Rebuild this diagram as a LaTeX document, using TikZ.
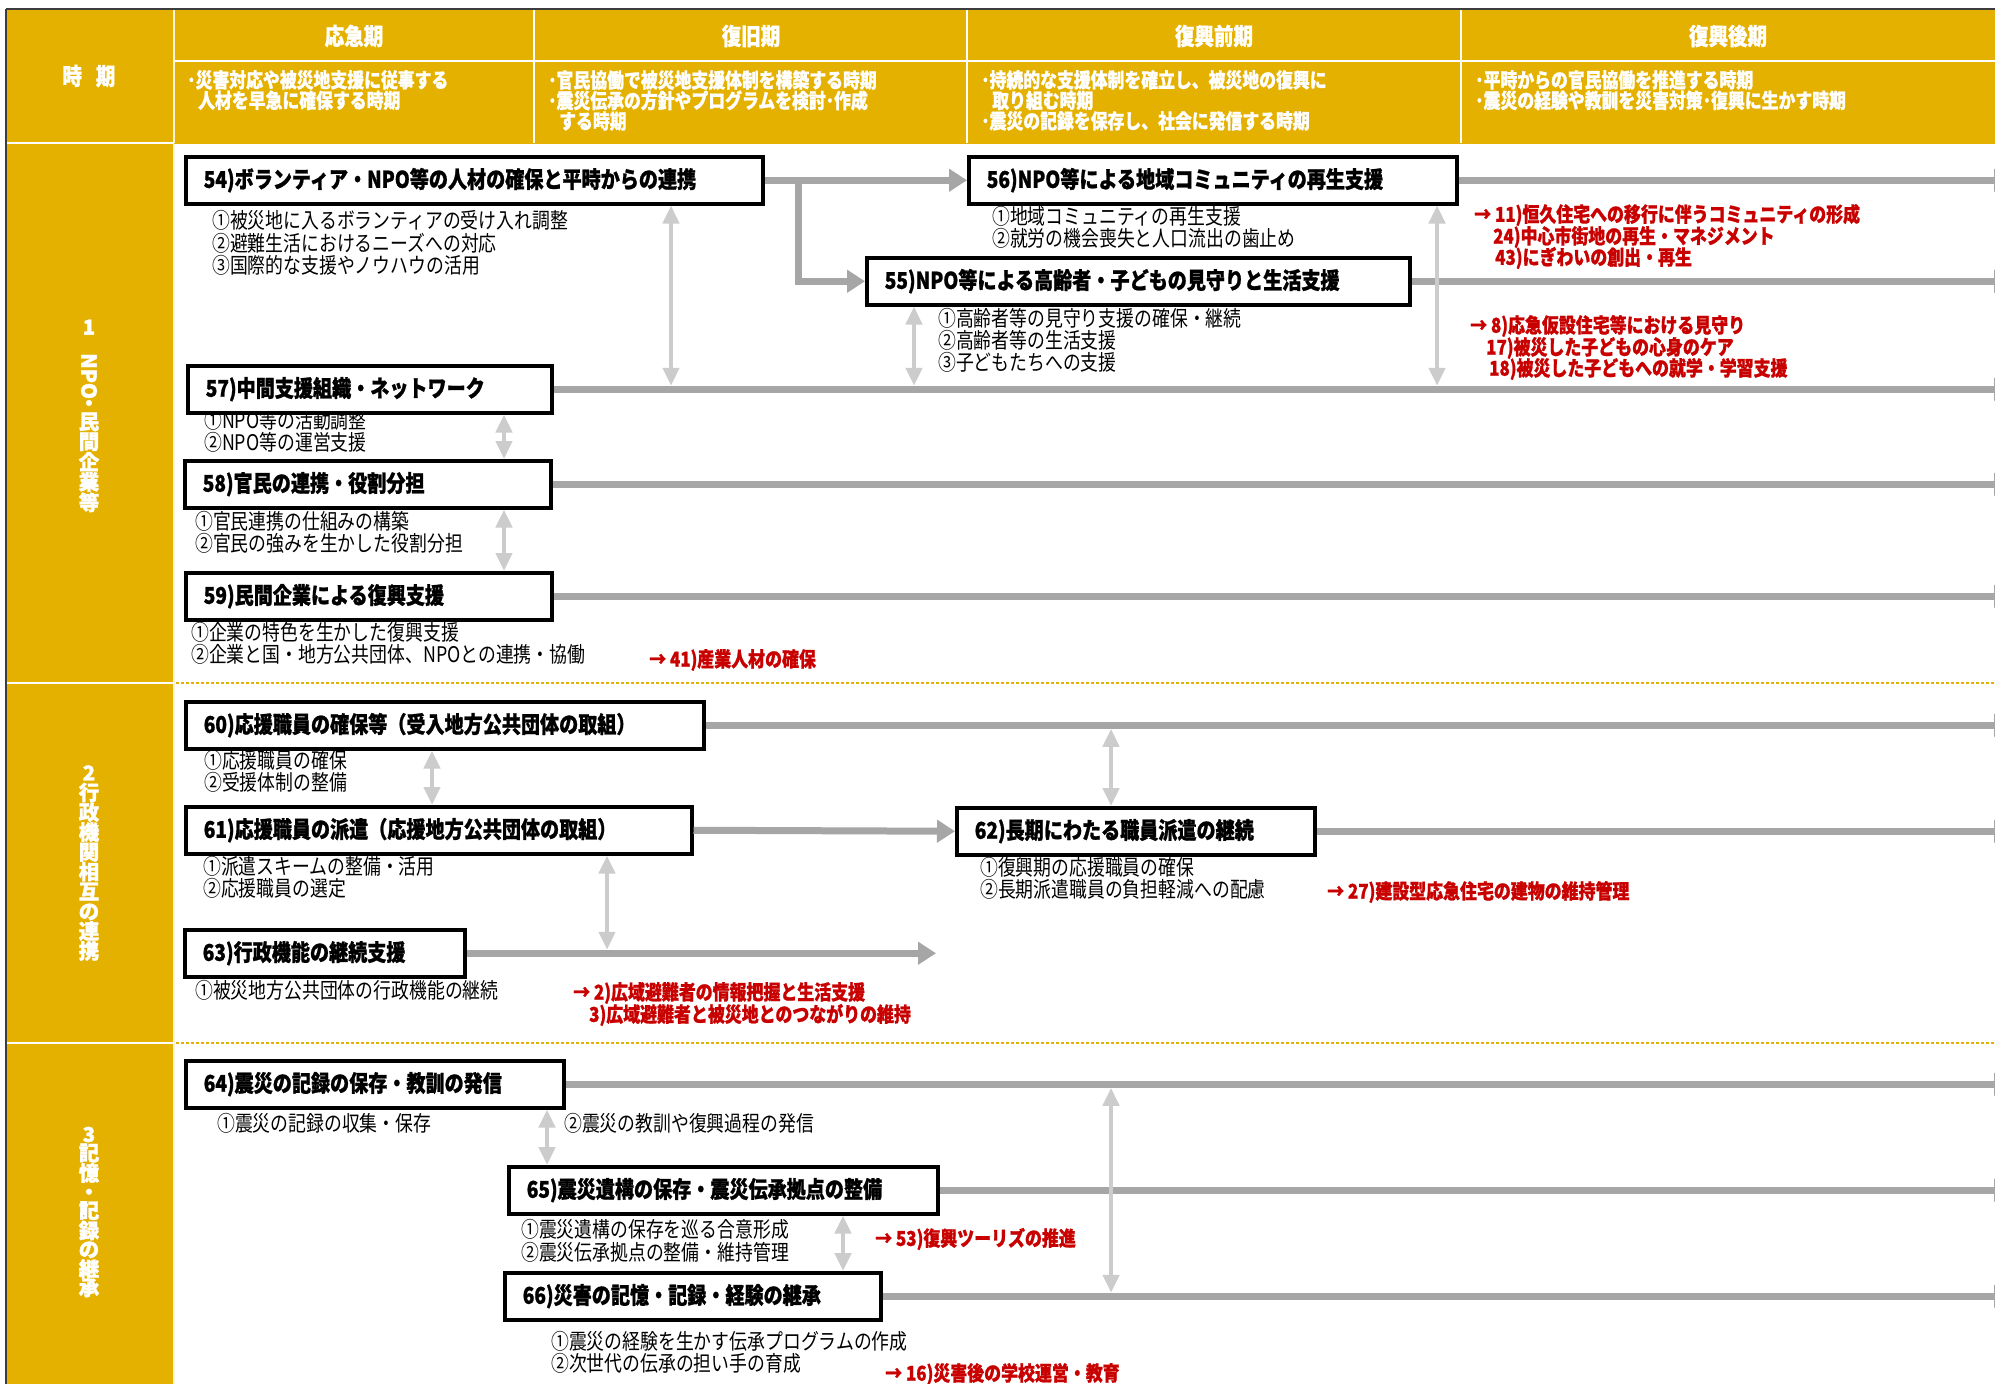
\documentclass[tikz,border=0pt]{standalone}
\usepackage{fontspec}
\setmainfont{Noto Sans CJK JP}
\newfontfamily\jp[FakeStretch=0.83, BoldFeatures={FakeBold=1}]{Noto Sans CJK JP}
\newfontfamily\jpv[BoldFeatures={FakeBold=1.5}]{Noto Sans CJK JP}
\usetikzlibrary{arrows.meta}
\definecolor{hdr}{RGB}{229,177,0}
\definecolor{arr}{RGB}{166,166,166}
\definecolor{arl}{RGB}{204,204,204}
\definecolor{redt}{RGB}{200,0,0}
\definecolor{edge}{RGB}{60,60,60}
\tikzset{
  tbox/.style={draw=black, line width=3.5pt, fill=white, anchor=north west,
    inner xsep=18pt, inner ysep=0pt, minimum height=47pt, align=left,
    font=\jp\bfseries\fontsize{23}{26}\selectfont},
  item/.style={anchor=west, inner sep=0pt, font=\jp\fontsize{21.5}{23}\selectfont},
  reditem/.style={anchor=west, inner sep=0pt, text=redt, font=\jp\bfseries\fontsize{20.4}{22}\selectfont},
  htitle/.style={text=white, inner sep=0pt, font=\jp\bfseries\fontsize{23.5}{26}\selectfont},
  hdesc/.style={text=white, anchor=north west, inner sep=0pt, align=left, font=\jp\bfseries\fontsize{20.3}{20.5}\selectfont},
  vlab/.style={text=white, inner sep=0pt, align=center, font=\jpv\bfseries\fontsize{20.5}{18.6}\selectfont},
  garr/.style={draw=arr, line width=7pt, -{Triangle[length=18pt,width=22pt]}},
  larr/.style={draw=arl, line width=4.5pt, {Triangle[length=18pt,width=16pt]}-{Triangle[length=18pt,width=16pt]}},
}
\begin{document}
\begin{tikzpicture}[x=1pt,y=-1pt]
\clip (0,0) rectangle (1995,1384);
\fill[white] (0,0) rectangle (1995,1384);
% header and left column
\fill[hdr] (6,9) rectangle (1995,143);
\fill[hdr] (6,143) rectangle (174,1384);
\draw[white, line width=1.5pt] (174,61) -- (1995,61);
\foreach \xx in {534,967,1461} \draw[white, line width=1.5pt] (\xx,9) -- (\xx,143);
\draw[white!85!hdr, line width=1.5pt] (174,9) -- (174,1384);
\foreach \yy in {143,683,1043} \draw[white, line width=2pt] (6,\yy) -- (174,\yy);
\draw[hdr, line width=1pt] (174,143) -- (1995,143);
\draw[edge, line width=2pt] (6,9) -- (1995,9);
\draw[edge, line width=2pt] (6,9) -- (6,1384);
\draw[hdr, line width=2.5pt, dash pattern=on 2.5pt off 2.5pt] (176,683) -- (1995,683);
\draw[hdr, line width=2.5pt, dash pattern=on 2.5pt off 2.5pt] (176,1043) -- (1995,1043);

\node[htitle] (hj) at (89,76) {時\hspace{14pt}期};
\node[htitle] (h1) at (354,36) {応急期};
\node[htitle] (h2) at (751,36) {復旧期};
\node[htitle] (h3) at (1214,36) {復興前期};
\node[htitle] (h4) at (1728,36) {復興後期};
\node[hdesc] (d1) at (187,70) {･災害対応や被災地支援に従事する\\\hspace*{11pt}人材を早急に確保する時期};
\node[hdesc] (d2) at (548,70) {･官民協働で被災地支援体制を構築する時期\\･震災伝承の方針やプログラムを検討･作成\\\hspace*{11pt}する時期};
\node[hdesc] (d3) at (981,70) {･持続的な支援体制を確立し、被災地の復興に\\\hspace*{11pt}取り組む時期\\･震災の記録を保存し、社会に発信する時期};
\node[hdesc] (d4) at (1475,70) {･平時からの官民協働を推進する時期\\･震災の経験や教訓を災害対策･復興に生かす時期};

\node[vlab] (s1) at (89,416) {1\\\rotatebox{-90}{NPO}\\・\\民\\間\\企\\業\\等};
\node[vlab, font=\jpv\bfseries\fontsize{20.5}{19.8}\selectfont] (s2) at (89,863) {2\\行\\政\\機\\関\\相\\互\\の\\連\\携};
\node[vlab] (s3) at (89,1212) {3\\記\\憶\\・\\記\\録\\の\\継\\承};

% items
\node[item] (i541) at (212,220) {①被災地に入るボランティアの受け入れ調整};
\node[item] (i542) at (212,243) {②避難生活におけるニーズへの対応};
\node[item] (i543) at (212,265) {③国際的な支援やノウハウの活用};
\node[item] (i561) at (992,216) {①地域コミュニティの再生支援};
\node[item] (i562) at (992,238) {②就労の機会喪失と人口流出の歯止め};
\node[item] (i551) at (938,318) {①高齢者等の見守り支援の確保・継続};
\node[item] (i552) at (938,340) {②高齢者等の生活支援};
\node[item] (i553) at (938,362) {③子どもたちへの支援};
\node[item] (i571) at (204,420) {①NPO等の活動調整};
\node[item] (i572) at (204,442) {②NPO等の運営支援};
\node[item] (i581) at (195,521) {①官民連携の仕組みの構築};
\node[item] (i582) at (195,543) {②官民の強みを生かした役割分担};
\node[item] (i591) at (191,632) {①企業の特色を生かした復興支援};
\node[item] (i592) at (191,654) {②企業と国・地方公共団体、NPOとの連携・協働};
\node[reditem] (r41) at (649,660) {→ 41)産業人材の確保};
\node[reditem] (r11) at (1474,215) {→ 11)恒久住宅への移行に伴うコミュニティの形成};
\node[reditem] (r24) at (1493,237) {24)中心市街地の再生・マネジメント};
\node[reditem] (r43) at (1495,258) {43)にぎわいの創出・再生};
\node[reditem] (r8) at (1470,326) {→ 8)応急仮設住宅等における見守り};
\node[reditem] (r17) at (1486,348) {17)被災した子どもの心身のケア};
\node[reditem] (r18) at (1489,369) {18)被災した子どもへの就学・学習支援};

\node[item] (i601) at (204,760) {①応援職員の確保};
\node[item] (i602) at (204,782) {②受援体制の整備};
\node[item] (i611) at (203,866) {①派遣スキームの整備・活用};
\node[item] (i612) at (203,888) {②応援職員の選定};
\node[item] (i621) at (980,867) {①復興期の応援職員の確保};
\node[item] (i622) at (980,889) {②長期派遣職員の負担軽減への配慮};
\node[reditem] (r27) at (1327,892) {→ 27)建設型応急住宅の建物の維持管理};
\node[item] (i631) at (195,990) {①被災地方公共団体の行政機能の継続};
\node[reditem] (r2) at (573,993) {→ 2)広域避難者の情報把握と生活支援};
\node[reditem] (r3) at (589,1015) {3)広域避難者と被災地とのつながりの維持};

\node[item] (i641) at (217,1123) {①震災の記録の収集・保存};
\node[item] (i642) at (564,1123) {②震災の教訓や復興過程の発信};
\node[item] (i651) at (521,1229) {①震災遺構の保存を巡る合意形成};
\node[item] (i652) at (521,1252) {②震災伝承拠点の整備・維持管理};
\node[reditem] (r53) at (875,1239) {→ 53)復興ツーリズの推進};
\node[item] (i661) at (551,1341) {①震災の経験を生かす伝承プログラムの作成};
\node[item] (i662) at (551,1363) {②次世代の伝承の担い手の育成};
\node[reditem] (r16) at (885,1374) {→ 16)災害後の学校運営・教育};

% boxes
\node[tbox, text width=541pt] (b54) at (184,155) {54)ボランティア・NPO等の人材の確保と平時からの連携};
\node[tbox, text width=452pt] (b56) at (967,155) {56)NPO等による地域コミュニティの再生支援};
\node[tbox, text width=507pt] (b55) at (865,256) {55)NPO等による高齢者・子どもの見守りと生活支援};
\node[tbox, text width=328pt] (b57) at (186,364) {57)中間支援組織・ネットワーク};
\node[tbox, text width=330pt] (b58) at (183,459) {58)官民の連携・役割分担};
\node[tbox, text width=330pt] (b59) at (184,571) {59)民間企業による復興支援};
\node[tbox, text width=482pt] (b60) at (184,700) {60)応援職員の確保等（受入地方公共団体の取組）};
\node[tbox, text width=470pt] (b61) at (184,805) {61)応援職員の派遣（応援地方公共団体の取組）};
\node[tbox, text width=322pt] (b62) at (955,806) {62)長期にわたる職員派遣の継続};
\node[tbox, text width=244pt] (b63) at (183,928) {63)行政機能の継続支援};
\node[tbox, text width=342pt] (b64) at (184,1059) {64)震災の記録の保存・教訓の発信};
\node[tbox, text width=393pt] (b65) at (507,1165) {65)震災遺構の保存・震災伝承拠点の整備};
\node[tbox, text width=340pt] (b66) at (503,1271) {66)災害の記憶・記録・経験の継承};

% connectors
\coordinate (E) at (2012,0);
\coordinate (j1) at (798,178);
\coordinate (e63) at (936,0);
\draw[garr] (b54.east) -- (b54.east -| b56.west);
\draw[garr] (j1) |- (b55.west);
\draw[garr] (b56.east) -- (b56.east -| E);
\draw[garr] (b55.east) -- (b55.east -| E);
\draw[garr] (b57.east) -- (b57.east -| E);
\draw[garr] (b58.east) -- (b58.east -| E);
\draw[garr] (b59.east) -- (b59.east -| E);
\draw[garr] (b60.east) -- (b60.east -| E);
\draw[garr] (b61.east) -- (b62.west);
\draw[garr] (b62.east) -- (b62.east -| E);
\draw[garr] (b63.east) -- (b63.east -| e63);
\draw[garr] (b64.east) -- (b64.east -| E);
\draw[garr] (b65.east) -- (b65.east -| E);
\draw[garr] (b66.east) -- (b66.east -| E);

\coordinate (v1) at (671,0);
\coordinate (v2) at (914,0);
\coordinate (v3) at (1437,0);
\coordinate (v4) at (504,0);
\coordinate (v5) at (432,0);
\coordinate (v6) at (607,0);
\coordinate (v7) at (1111,0);
\coordinate (v8) at (547,0);
\coordinate (v9) at (843,0);
\draw[larr, shorten >=3.5pt] (b54.south -| v1) -- (b57.east -| v1);
\draw[larr, shorten >=3.5pt] (b55.south -| v2) -- (b57.east -| v2);
\draw[larr, shorten >=3.5pt] (b56.south -| v3) -- (b57.east -| v3);
\draw[larr] (b57.south -| v4) -- (b58.north -| v4);
\draw[larr] (b58.south -| v4) -- (b59.north -| v4);
\draw[larr] (b60.south -| v5) -- (b61.north -| v5);
\draw[larr, shorten >=3.5pt] (b61.south -| v6) -- (b63.east -| v6);
\draw[larr, shorten <=3.5pt] (b60.east -| v7) -- (b62.north -| v7);
\draw[larr] (b64.south -| v8) -- (b65.north -| v8);
\draw[larr] (b65.south -| v9) -- (b66.north -| v9);
\draw[larr, shorten <=3.5pt, shorten >=3.5pt] (b64.east -| v7) -- (b66.east -| v7);
\end{tikzpicture}
\end{document}
